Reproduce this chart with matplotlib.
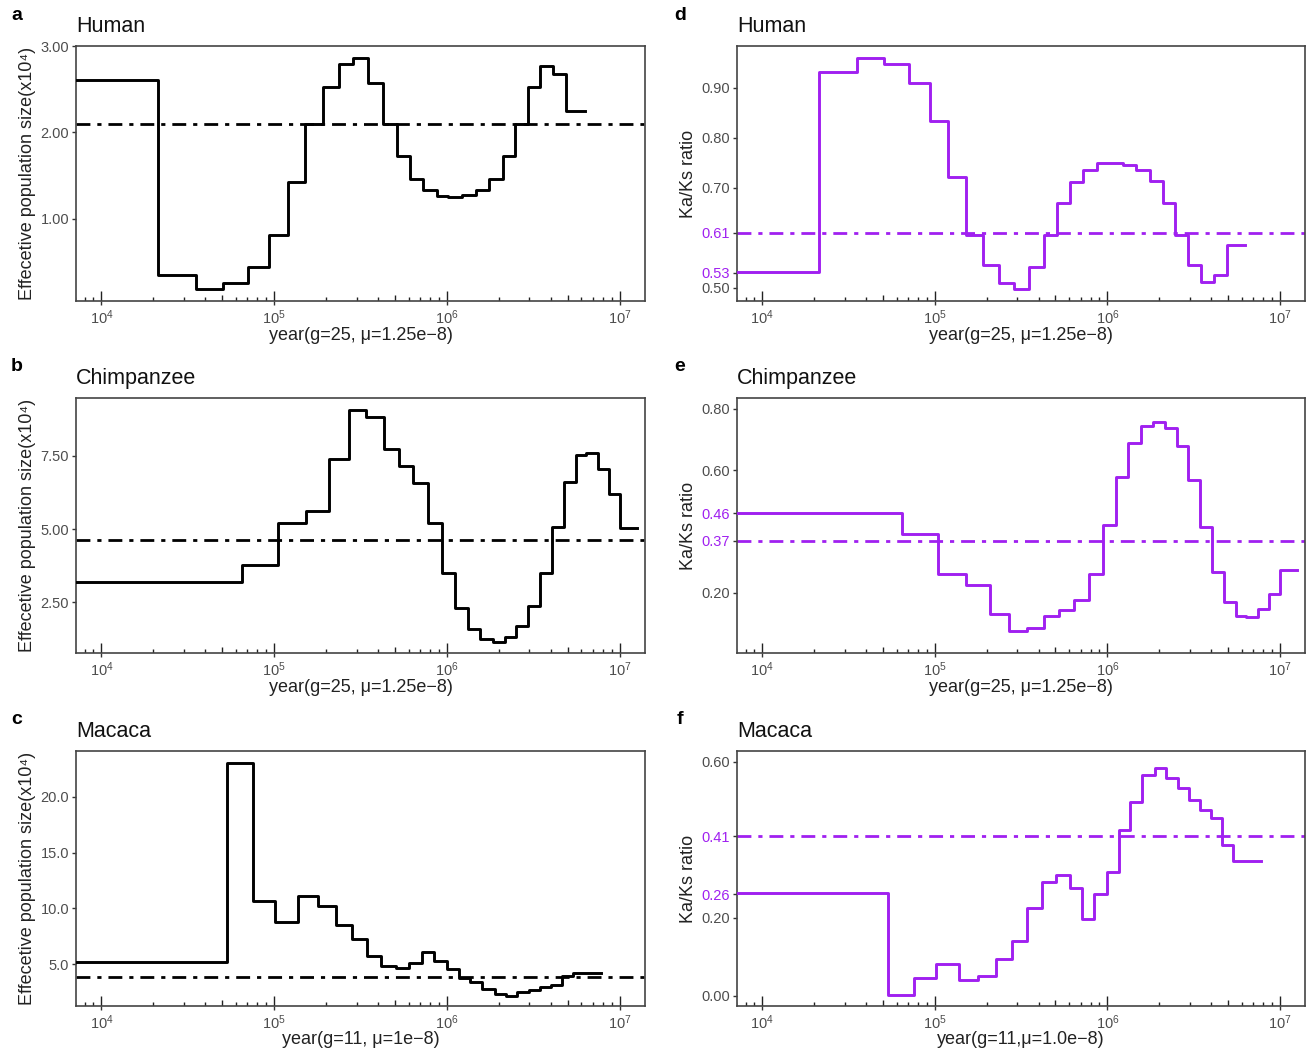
import numpy as np
import matplotlib
matplotlib.use("Agg")
from matplotlib import pyplot as plt
from matplotlib.ticker import NullLocator

plt.rcParams['font.family'] = ['Liberation Sans', 'DejaVu Sans']
plt.rcParams['mathtext.fontset'] = 'custom'
plt.rcParams['mathtext.rm'] = 'Liberation Sans'
plt.rcParams['mathtext.it'] = 'Liberation Sans'
plt.rcParams['mathtext.default'] = 'regular'

# time bins (right edge of each step, years)
human_t = [2.14e4, 3.55e4, 5.08e4, 7.08e4, 9.38e4, 1.197e5, 1.51e5, 1.91e5, 2.36e5,
           2.86e5, 3.51e5, 4.27e5, 5.11e5, 6.11e5, 7.26e5, 8.73e5, 1.019e6, 1.225e6,
           1.466e6, 1.762e6, 2.099e6, 2.472e6, 2.938e6, 3.475e6, 4.13e6, 4.91e6, 6.28e6]
chimp_t = [6.49e4, 1.047e5, 1.52e5, 2.08e5, 2.70e5, 3.41e5, 4.31e5, 5.25e5, 6.40e5,
           7.80e5, 9.38e5, 1.117e6, 1.318e6, 1.563e6, 1.845e6, 2.153e6, 2.518e6, 2.951e6,
           3.459e6, 4.027e6, 4.753e6, 5.559e6, 6.353e6, 7.464e6, 8.670e6, 1.009e7, 1.259e7]
macaca_t = [5.36e4, 7.53e4, 1.014e5, 1.380e5, 1.786e5, 2.270e5, 2.812e5, 3.436e5, 4.178e5,
            5.070e5, 6.039e5, 7.129e5, 8.414e5, 1.0e6, 1.175e6, 1.361e6, 1.596e6, 1.888e6,
            2.188e6, 2.553e6, 2.979e6, 3.459e6, 4.009e6, 4.624e6, 5.370e6, 7.76e6]

# effective population size (x10^4)
human_ne = [2.61, 0.35, 0.18, 0.26, 0.44, 0.81, 1.43, 2.10, 2.53, 2.79, 2.86, 2.57, 2.10,
            1.73, 1.46, 1.33, 1.26, 1.25, 1.27, 1.33, 1.46, 1.72, 2.10, 2.53, 2.77, 2.68, 2.25]
chimp_ne = [3.19, 3.78, 5.20, 5.63, 7.38, 9.06, 8.80, 7.71, 7.15, 6.56, 5.20, 3.51, 2.32,
            1.61, 1.27, 1.15, 1.32, 1.69, 2.38, 3.51, 5.06, 6.61, 7.51, 7.58, 7.06, 6.19, 5.02]
macaca_ne = [5.21, 23.06, 10.70, 8.82, 11.15, 10.25, 8.49, 7.24, 5.69, 4.79, 4.64, 5.09, 6.13,
             5.24, 4.55, 3.75, 3.36, 2.76, 2.34, 2.16, 2.46, 2.64, 2.94, 3.15, 3.90, 4.19]

# Ka/Ks ratio
human_kaks = [0.532, 0.932, 0.960, 0.948, 0.909, 0.834, 0.721, 0.605, 0.546, 0.509, 0.497,
              0.542, 0.605, 0.670, 0.711, 0.736, 0.749, 0.749, 0.746, 0.736, 0.713, 0.670,
              0.605, 0.545, 0.512, 0.526, 0.586]
chimp_kaks = [0.459, 0.391, 0.263, 0.226, 0.131, 0.075, 0.086, 0.124, 0.144, 0.176, 0.263,
              0.420, 0.579, 0.688, 0.743, 0.756, 0.737, 0.677, 0.568, 0.415, 0.268, 0.170,
              0.126, 0.122, 0.149, 0.195, 0.274]
macaca_kaks = [0.265, 0.002, 0.046, 0.082, 0.040, 0.052, 0.095, 0.141, 0.226, 0.293, 0.311,
               0.276, 0.197, 0.261, 0.318, 0.426, 0.496, 0.567, 0.584, 0.559, 0.534, 0.502,
               0.477, 0.456, 0.388, 0.347]

# mean lines
ne_means = [2.10, 4.62, 3.81]
kaks_means = [0.61, 0.37, 0.41]

species = ['Human', 'Chimpanzee', 'Macaca']
ne_ticks = [[1.0, 2.0, 3.0], [2.5, 5.0, 7.5], [5.0, 10.0, 15.0, 20.0]]
ne_ticklabels = [['1.00', '2.00', '3.00'], ['2.50', '5.00', '7.50'], ['5.0', '10.0', '15.0', '20.0']]
kaks_ticks = [[0.50, 0.53, 0.61, 0.70, 0.80, 0.90], [0.20, 0.37, 0.46, 0.60, 0.80],
              [0.00, 0.20, 0.26, 0.41, 0.60]]
kaks_ticklabels = [['0.50', '0.53', '0.61', '0.70', '0.80', '0.90'],
                   ['0.20', '0.37', '0.46', '0.60', '0.80'],
                   ['0.00', '0.20', '0.26', '0.41', '0.60']]
kaks_highlight = [['0.53', '0.61'], ['0.37', '0.46'], ['0.26', '0.41']]
xlabels_left = ['year(g=25, μ=1.25e−8)', 'year(g=25, μ=1.25e−8)', 'year(g=11, μ=1e−8)']
xlabels_right = ['year(g=25, μ=1.25e−8)', 'year(g=25, μ=1.25e−8)', 'year(g=11,μ=1.0e−8)']

ne_ylims = [(0.046, 2.994), (0.78, 9.46), (1.25, 24.1)]
kaks_ylims = [(0.474, 0.983), (0.004, 0.835), (-0.026, 0.628)]

PURPLE = '#A020F0'
GREY = '#4D4D4D'
W, H = 1306, 1055


def add_logticks(ax):
    # ggplot style log ticks drawn inside the bottom axis
    for k in range(3, 8):
        for m in range(1, 10):
            h = 0.039 if m == 1 else (0.024 if m == 5 else 0.016)
            ax.plot([m * 10 ** k] * 2, [0, h], transform=ax.get_xaxis_transform(),
                    color='#222222', lw=1.0, solid_capstyle='butt')


def draw_panel(ax, edges, values, mean, color, ylim, yticks, yticklabels, highlight,
               xlabel, ylabel, title, letter, letter_xy):
    x = [1e3] + list(edges)
    y = list(values) + [values[-1]]
    ax.step(x, y, where='post', color=color, lw=2.1, zorder=3)
    ax.axhline(mean, color=color, lw=2.0, linestyle=(0, (5, 2.5, 1.5, 2.5)), zorder=2)
    ax.set_xscale('log')
    ax.set_xlim(10 ** 3.853, 10 ** 7.146)
    ax.set_ylim(*ylim)
    ax.set_xticks([1e4, 1e5, 1e6, 1e7])
    ax.set_xticklabels(['$10^{4}$', '$10^{5}$', '$10^{6}$', '$10^{7}$'])
    ax.xaxis.set_minor_locator(NullLocator())
    ax.set_yticks(yticks)
    ax.set_yticklabels(yticklabels)
    ax.tick_params(axis='both', direction='out', length=3, width=1.0, color='#333333',
                   labelsize=10.5, labelcolor=GREY, pad=2)
    for lab in ax.get_yticklabels():
        if lab.get_text() in highlight:
            lab.set_color(PURPLE)
    for sp in ax.spines.values():
        sp.set_color('#444444')
        sp.set_linewidth(1.2)
    add_logticks(ax)
    ax.set_xlabel(xlabel, fontsize=13, color='#222222')
    ax.xaxis.set_label_coords(0.5, -0.1)
    ax.set_ylabel(ylabel, fontsize=13, color='#222222')
    ax.yaxis.set_label_coords(-0.07, 0.5)
    ax.text(0.0, 1.075, title, transform=ax.transAxes, fontsize=15.5, color='#111111',
            ha='left', va='center')
    fig.text(letter_xy[0] / W, 1 - letter_xy[1] / H, letter, fontsize=14, fontweight='bold',
             ha='center', va='center')


fig = plt.figure(figsize=(W / 100, H / 100), dpi=100)

tops = [46, 398, 751]
height = 255
times = [human_t, chimp_t, macaca_t]
nes = [human_ne, chimp_ne, macaca_ne]
kakss = [human_kaks, chimp_kaks, macaca_kaks]
left_letters = ['a', 'b', 'c']
right_letters = ['d', 'e', 'f']

for i in range(3):
    top = tops[i]
    axl = fig.add_axes([76 / W, 1 - (top + height) / H, 569 / W, height / H])
    draw_panel(axl, times[i], nes[i], ne_means[i], 'black', ne_ylims[i],
               ne_ticks[i], ne_ticklabels[i], [],
               xlabels_left[i], 'Effecetive population size(x10⁴)', species[i],
               left_letters[i], (17, top - 31))
    axr = fig.add_axes([737 / W, 1 - (top + height) / H, 568 / W, height / H])
    draw_panel(axr, times[i], kakss[i], kaks_means[i], PURPLE, kaks_ylims[i],
               kaks_ticks[i], kaks_ticklabels[i], kaks_highlight[i],
               xlabels_right[i], 'Ka/Ks ratio', species[i],
               right_letters[i], (680, top - 31))

fig.savefig('out.png', dpi=100)
